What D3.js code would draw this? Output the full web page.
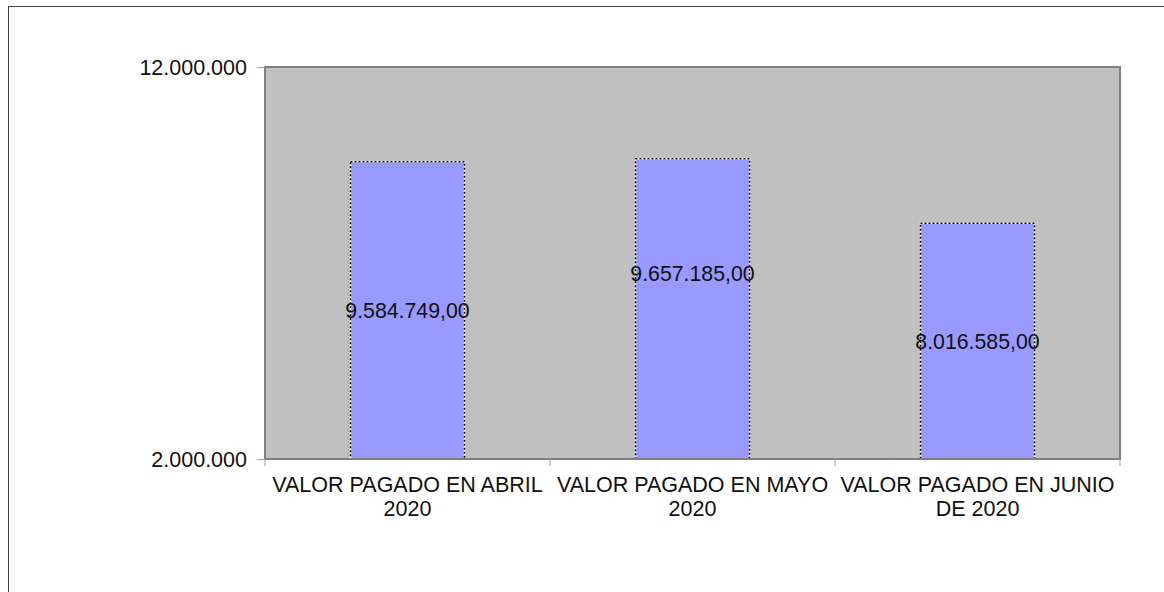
<!DOCTYPE html>
<html>
<head>
<meta charset="utf-8">
<script src="https://cdn.jsdelivr.net/npm/d3@7"></script>
<style>
  body { margin: 0; background: #fff; }
  svg { display: block; font-family: "Liberation Sans", Arial, sans-serif; }
</style>
</head>
<body>
<div id="vis"></div>
<script>
const categories = ["VALOR PAGADO EN ABRIL 2020", "VALOR PAGADO EN MAYO 2020", "VALOR PAGADO EN JUNIO DE 2020"];
const values = [9584749, 9657185, 8016585];
const y_ticks = [2000000, 12000000];
const y_min = 2000000;
const y_max = 12000000;

const frame_width = 1164;
const frame_height = 592;
const plot = {left: 265, right: 1120, top: 67, bottom: 459};

const es = d3.formatLocale({decimal: ",", thousands: ".", grouping: [3], currency: ["", ""]});
const fmt_tick = es.format(",d");
const fmt_val = es.format(",.2f");

const x_scale = d3.scaleBand()
    .domain(categories)
    .range([plot.left, plot.right])
    .paddingInner(0.6)
    .paddingOuter(0.3);

const y_scale = d3.scaleLinear()
    .domain([y_min, y_max])
    .range([plot.bottom, plot.top]);

const svg = d3.select("#vis")
    .append("svg")
        .attr("width", frame_width)
        .attr("height", frame_height);

// outer chart border (runs off the right and bottom)
svg.append("rect")
    .attr("x", 8.5).attr("y", 6.5)
    .attr("width", 1300).attr("height", 700)
    .attr("fill", "#fff")
    .attr("stroke", "#404040")
    .attr("stroke-width", 1);

// plot area
svg.append("rect")
    .attr("x", plot.left).attr("y", plot.top)
    .attr("width", plot.right - plot.left)
    .attr("height", plot.bottom - plot.top)
    .attr("fill", "#c0c0c0")
    .attr("stroke", "#808080")
    .attr("stroke-width", 2);

// bars
const bars = svg.selectAll(".bar")
    .data(values)
    .enter();

bars.append("rect")
    .attr("x", (d, i) => x_scale(categories[i]))
    .attr("y", (d) => y_scale(d))
    .attr("width", x_scale.bandwidth())
    .attr("height", (d) => plot.bottom - y_scale(d))
    .attr("fill", "#9999ff")
    .attr("stroke", "#fff")
    .attr("stroke-width", 1.5);

bars.append("rect")
    .attr("x", (d, i) => x_scale(categories[i]))
    .attr("y", (d) => y_scale(d))
    .attr("width", x_scale.bandwidth())
    .attr("height", (d) => plot.bottom - y_scale(d))
    .attr("fill", "none")
    .attr("stroke", "#000")
    .attr("stroke-width", 1.5)
    .attr("stroke-dasharray", "2,2");

// value labels (the middle one sits higher in the original)
const labelNudge = [0, -36, 0];
svg.selectAll(".val")
    .data(values)
    .enter()
    .append("text")
        .attr("x", (d, i) => x_scale(categories[i]) + x_scale.bandwidth() / 2)
        .attr("y", (d, i) => (y_scale(d) + plot.bottom) / 2 + labelNudge[i])
        .attr("dy", "0.38em")
        .attr("text-anchor", "middle")
        .attr("font-size", "21.3px")
        .attr("fill", "#111")
        .text((d) => fmt_val(d));

// bottom axis line
svg.append("line")
    .attr("x1", plot.left).attr("x2", plot.right)
    .attr("y1", plot.bottom).attr("y2", plot.bottom)
    .attr("stroke", "#808080")
    .attr("stroke-width", 2);

// y axis
const y_axis = svg.append("g")
    .attr("transform", "translate(" + plot.left + ",0)")
    .call(d3.axisLeft(y_scale)
        .tickValues(y_ticks)
        .tickSize(8)
        .tickPadding(10)
        .tickFormat(fmt_tick));
y_axis.select(".domain").remove();
y_axis.selectAll(".tick line").attr("stroke", "#a0a0a0");
y_axis.selectAll(".tick text")
    .attr("font-size", "21.5px")
    .attr("font-family", "Liberation Sans, Arial, sans-serif")
    .attr("fill", "#111")
    .attr("dy", "0.36em");

// x category boundary ticks
const bounds = d3.range(categories.length + 1).map((i) => plot.left + i * x_scale.step());
svg.selectAll(".xtick")
    .data(bounds)
    .enter()
    .append("line")
        .attr("x1", (d) => d).attr("x2", (d) => d)
        .attr("y1", plot.bottom).attr("y2", plot.bottom + 7)
        .attr("stroke", "#a0a0a0")
        .attr("stroke-width", 1);

// x labels, wrapped to band step
const x_axis = svg.append("g")
    .attr("transform", "translate(0," + plot.bottom + ")")
    .call(d3.axisBottom(x_scale).tickSize(0).tickPadding(0));
x_axis.select(".domain").remove();
x_axis.selectAll(".tick text")
    .attr("font-size", "21.5px")
    .attr("font-family", "Liberation Sans, Arial, sans-serif")
    .attr("fill", "#111")
    .call(wrap, x_scale.step() - 4);

function wrap(sel, width) {
    sel.each(function () {
        const text = d3.select(this);
        const words = text.text().split(/\s+/);
        text.text(null).attr("y", null).attr("dy", null);
        let line = [];
        let lineNo = 0;
        let tspan = text.append("tspan").attr("x", 0).attr("y", 33);
        for (const w of words) {
            line.push(w);
            tspan.text(line.join(" "));
            if (tspan.node().getComputedTextLength() > width && line.length > 1) {
                line.pop();
                tspan.text(line.join(" "));
                line = [w];
                lineNo++;
                tspan = text.append("tspan").attr("x", 0).attr("y", 33 + lineNo * 24.4).text(w);
            }
        }
    });
}
</script>
</body>
</html>
